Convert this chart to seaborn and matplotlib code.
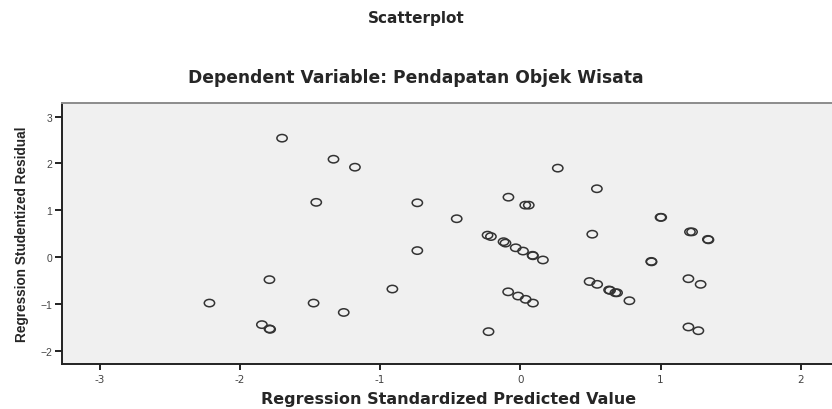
import pandas as pd
import matplotlib
matplotlib.use("Agg")
import matplotlib.pyplot as plt
from matplotlib.path import Path
from matplotlib.transforms import Affine2D
import seaborn as sns

# values
predicted = [-1.70, -1.333, -1.18, -1.456, -0.735, -0.735, -1.79, -0.913, -2.218, -1.475,
             -1.26, -1.844, -1.79, -1.785,
             0.267, 0.546, -0.085, 0.035, 0.06, -0.454, 1.0, 1.005, 1.21, 1.225,
             1.338, 1.342, -0.234, -0.21, -0.12, -0.106, -0.033, 0.019, 0.087, 0.09,
             0.161, 0.513, 0.934, 0.936, 0.494, 0.548, 0.633, 0.64, 0.678, 0.69,
             0.778, 1.199, 1.286, -0.087, -0.016, 0.038, 0.09, -0.227, 1.199, 1.27]
residual = [2.54, 2.09, 1.92, 1.17, 1.16, 0.14, -0.48, -0.68, -0.98, -0.98,
            -1.18, -1.44, -1.53, -1.54,
            1.90, 1.46, 1.28, 1.11, 1.11, 0.82, 0.85, 0.85, 0.54, 0.54,
            0.38, 0.37, 0.47, 0.44, 0.33, 0.30, 0.20, 0.13, 0.04, 0.03,
            -0.06, 0.49, -0.09, -0.10, -0.52, -0.58, -0.70, -0.71, -0.76, -0.76,
            -0.93, -0.46, -0.58, -0.74, -0.83, -0.90, -0.98, -1.59, -1.49, -1.57]
x_ticks = [-3, -2, -1, 0, 1, 2]
y_ticks = [-2, -1, 0, 1, 2, 3]

df = pd.DataFrame({"pred": predicted, "resid": residual})

sns.set_style("ticks")
plt.rcParams['font.family'] = ['Liberation Sans', 'DejaVu Sans']

# the original chart is stretched sideways, so the circles are a bit wide
ellipse = Affine2D().scale(1.4, 1.0).transform_path(Path.unit_circle())

fig = plt.figure(figsize=(8.32, 4.10), dpi=100)
ax = fig.add_axes([0.0745, 0.1098, 0.93, 0.6365])
ax.set_facecolor("#f0f0f0")

sns.scatterplot(data=df, x="pred", y="resid", ax=ax, marker=ellipse, s=55,
                facecolor="none", edgecolor="#333333", linewidth=1.1)

ax.set_xlim(-3.27, 2.25)
ax.set_ylim(-2.28, 3.29)
ax.set_xticks(x_ticks)
ax.set_yticks(y_ticks)
ax.set_xticklabels([str(v) for v in x_ticks], family="DejaVu Sans", fontsize=8)
ax.tick_params(axis="both", labelsize=7.5, colors="#222222", width=1.4,
               labelcolor="#444444")
ax.tick_params(axis="x", length=4, pad=3)
ax.tick_params(axis="y", length=5, pad=2)

for side in ["left", "bottom"]:
    ax.spines[side].set_color("#222222")
    ax.spines[side].set_linewidth(1.4)
ax.spines["top"].set_color("#8c8c8c")
ax.spines["top"].set_linewidth(1.4)
ax.spines["right"].set_visible(False)

ax.set_xlabel("Regression Standardized Predicted Value", fontsize=11.5,
              fontweight="bold", family="DejaVu Sans", labelpad=5)
ax.set_ylabel("Regression Studentized Residual", fontsize=9.8, fontweight="bold",
              labelpad=8)

fig.text(0.5, 0.955, "Scatterplot", ha="center", va="center", fontsize=11,
         fontweight="bold", family="DejaVu Sans")
fig.text(0.5, 0.81, "Dependent Variable: Pendapatan Objek Wisata", ha="center",
         va="center", fontsize=12.3, fontweight="bold", family="DejaVu Sans")

fig.savefig("out.png", dpi=100)
